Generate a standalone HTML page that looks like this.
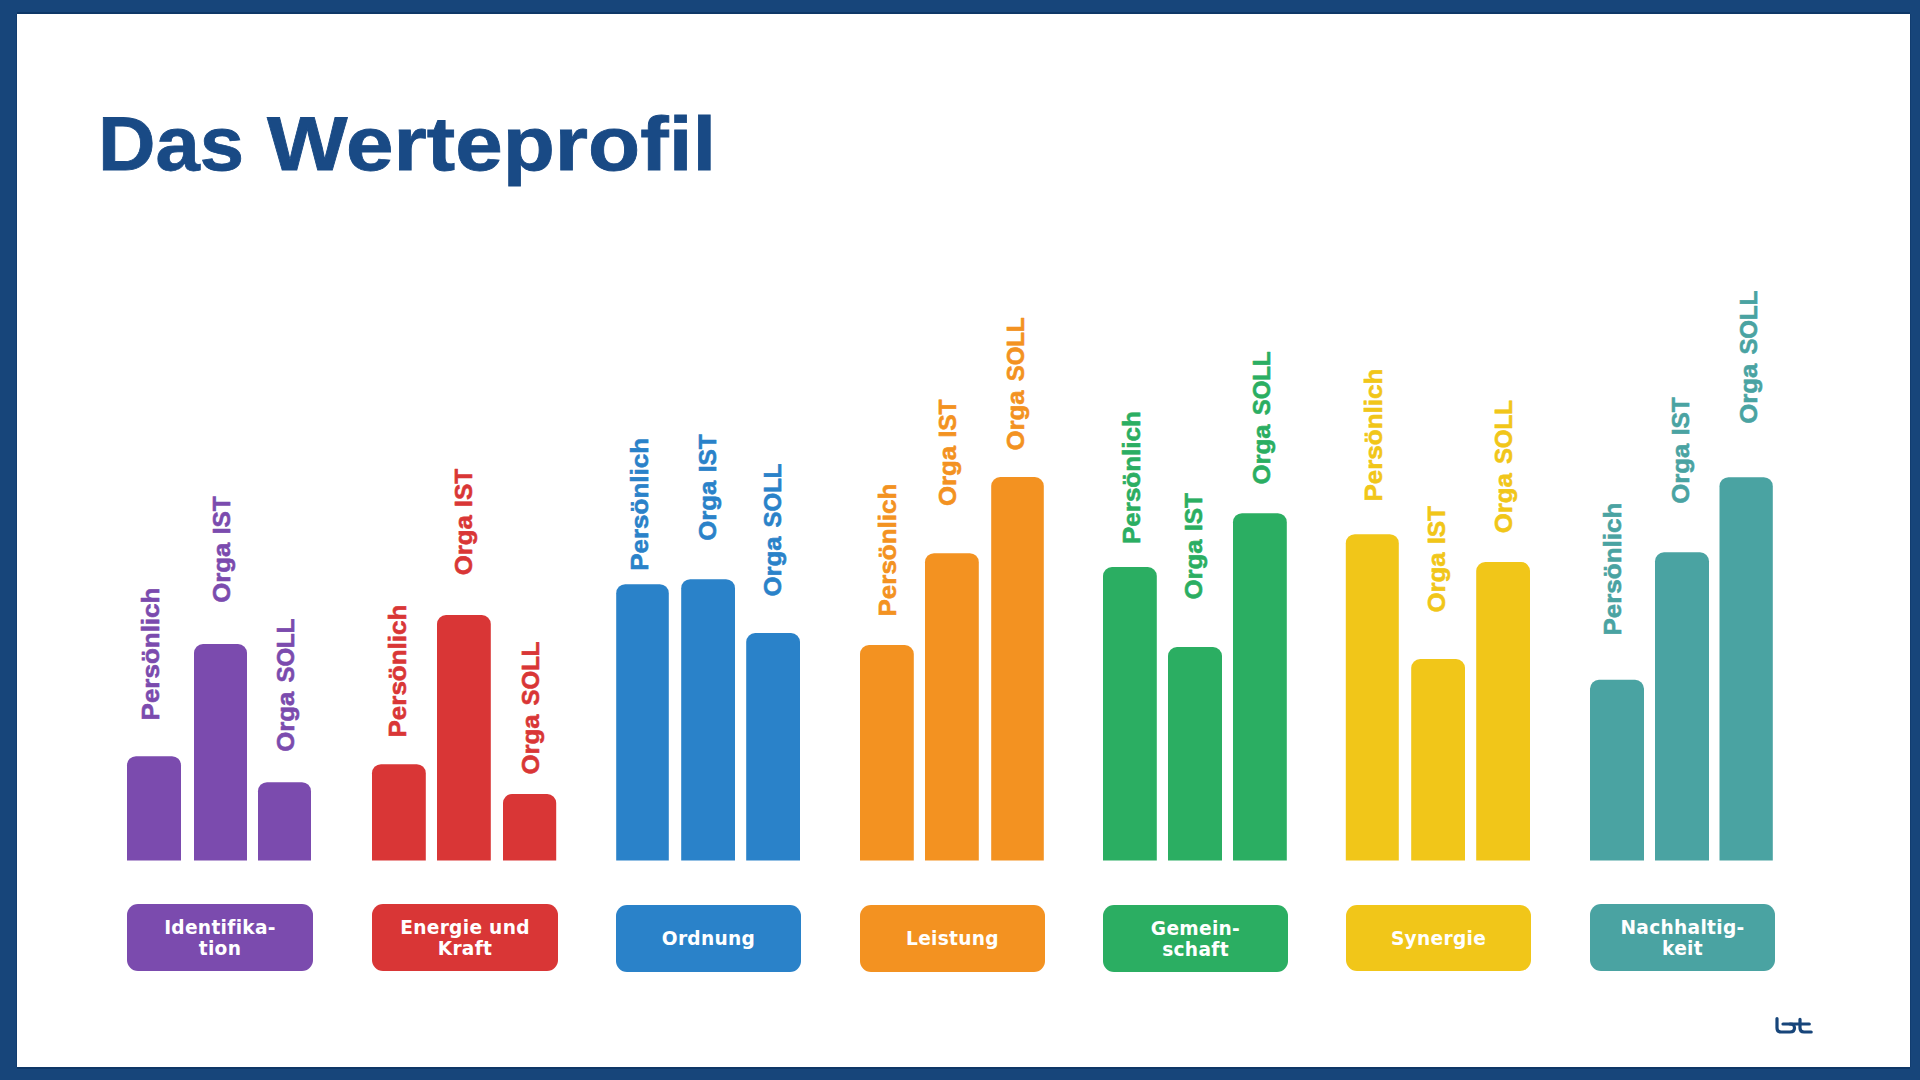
<!DOCTYPE html>
<html lang="de">
<head>
<meta charset="utf-8">
<title>Das Werteprofil</title>
<style>
html,body{margin:0;padding:0;}
body{width:1920px;height:1080px;overflow:hidden;background:#17457A;position:relative;font-family:"Liberation Sans",sans-serif;}
.slide{position:absolute;left:17px;top:14px;width:1893px;height:1053px;background:#fff;box-shadow:0 -2px 0 #0e3767,0 2px 0 #0e3767,-1px 0 0 #123d70,1px 0 0 #123d70;}
h1{position:absolute;margin:0;left:0;top:106px;width:900px;height:80px;font:bold 76px/1 "Liberation Sans",sans-serif;color:#194A85;white-space:nowrap;-webkit-text-stroke:0.8px #194A85;}
h1 span{position:absolute;top:0;transform-origin:0 0;}
h1 .w1{left:97.8px;transform:scaleX(1.048);}
h1 .w2{left:267.3px;transform:scaleX(1.1235);}
svg.chart{position:absolute;left:0;top:0;width:1920px;height:1080px;}
svg.chart text{font-family:"Liberation Sans",sans-serif;font-weight:bold;font-size:24.5px;stroke-width:.6px;stroke-linejoin:round;}
.cat{position:absolute;border-radius:11px;color:#fff;font:bold 18.6px/21px "DejaVu Sans","Liberation Sans",sans-serif;letter-spacing:.3px;text-align:center;display:flex;flex-direction:column;justify-content:center;align-items:center;}
.cat span{display:block;white-space:nowrap;}
svg.logo{position:absolute;left:1770px;top:1012px;width:48px;height:26px;}
</style>
</head>
<body>
<div class="slide"></div>
<h1><span class="w1">Das</span> <span class="w2">Werteprofil</span></h1>
<svg class="chart" viewBox="0 0 1920 1080">

<g fill="#7B4BAE">
<path d="M127.0 860.5V765.2A9 9 0 0 1 136.0 756.2H172.0A9 9 0 0 1 181.0 765.2V860.5Z"/>
<path d="M194.0 860.5V653.0A9 9 0 0 1 203.0 644.0H238.0A9 9 0 0 1 247.0 653.0V860.5Z"/>
<path d="M258.0 860.5V791.2A9 9 0 0 1 267.0 782.2H302.0A9 9 0 0 1 311.0 791.2V860.5Z"/>
</g>
<g fill="#D93636">
<path d="M372.0 860.5V773.2A9 9 0 0 1 381.0 764.2H416.8A9 9 0 0 1 425.8 773.2V860.5Z"/>
<path d="M437.0 860.5V624.0A9 9 0 0 1 446.0 615.0H481.8A9 9 0 0 1 490.8 624.0V860.5Z"/>
<path d="M503.0 860.5V803.0A9 9 0 0 1 512.0 794.0H547.2A9 9 0 0 1 556.2 803.0V860.5Z"/>
</g>
<g fill="#2A82C9">
<path d="M616.2 860.5V593.2A9 9 0 0 1 625.2 584.2H659.8A9 9 0 0 1 668.8 593.2V860.5Z"/>
<path d="M681.2 860.5V588.2A9 9 0 0 1 690.2 579.2H726.0A9 9 0 0 1 735.0 588.2V860.5Z"/>
<path d="M746.2 860.5V642.0A9 9 0 0 1 755.2 633.0H791.0A9 9 0 0 1 800.0 642.0V860.5Z"/>
</g>
<g fill="#F39221">
<path d="M860.0 860.5V654.0A9 9 0 0 1 869.0 645.0H904.8A9 9 0 0 1 913.8 654.0V860.5Z"/>
<path d="M925.0 860.5V562.2A9 9 0 0 1 934.0 553.2H969.8A9 9 0 0 1 978.8 562.2V860.5Z"/>
<path d="M991.2 860.5V486.0A9 9 0 0 1 1000.2 477.0H1034.8A9 9 0 0 1 1043.8 486.0V860.5Z"/>
</g>
<g fill="#2BAE62">
<path d="M1103.0 860.5V576.0A9 9 0 0 1 1112.0 567.0H1147.8A9 9 0 0 1 1156.8 576.0V860.5Z"/>
<path d="M1168.0 860.5V656.0A9 9 0 0 1 1177.0 647.0H1213.0A9 9 0 0 1 1222.0 656.0V860.5Z"/>
<path d="M1233.0 860.5V522.2A9 9 0 0 1 1242.0 513.2H1277.8A9 9 0 0 1 1286.8 522.2V860.5Z"/>
</g>
<g fill="#F1C619">
<path d="M1345.8 860.5V543.2A9 9 0 0 1 1354.8 534.2H1389.8A9 9 0 0 1 1398.8 543.2V860.5Z"/>
<path d="M1411.2 860.5V668.0A9 9 0 0 1 1420.2 659.0H1456.0A9 9 0 0 1 1465.0 668.0V860.5Z"/>
<path d="M1476.2 860.5V571.0A9 9 0 0 1 1485.2 562.0H1521.0A9 9 0 0 1 1530.0 571.0V860.5Z"/>
</g>
<g fill="#4AA3A2">
<path d="M1590.0 860.5V688.8A9 9 0 0 1 1599.0 679.8H1635.0A9 9 0 0 1 1644.0 688.8V860.5Z"/>
<path d="M1655.0 860.5V561.3A9 9 0 0 1 1664.0 552.3H1700.0A9 9 0 0 1 1709.0 561.3V860.5Z"/>
<path d="M1719.5 860.5V486.2A9 9 0 0 1 1728.5 477.2H1763.8A9 9 0 0 1 1772.8 486.2V860.5Z"/>
</g>
<g fill="#7B4BAE" stroke="#7B4BAE">
<text x="159.2" y="720.4" transform="rotate(-90 159.2 720.4)" textLength="132.8" lengthAdjust="spacingAndGlyphs">Persönlich</text>
<text x="230.3" y="602.7" transform="rotate(-90 230.3 602.7)"><tspan textLength="67.2" lengthAdjust="spacingAndGlyphs">Orga </tspan><tspan x="298.7" textLength="38.1" lengthAdjust="spacingAndGlyphs">IST</tspan></text>
<text x="294.4" y="751.7" transform="rotate(-90 294.4 751.7)"><tspan textLength="67.2" lengthAdjust="spacingAndGlyphs">Orga </tspan><tspan x="363.5" textLength="63.9" lengthAdjust="spacingAndGlyphs">SOLL</tspan></text>
</g>
<g fill="#D93636" stroke="#D93636">
<text x="405.5" y="737.5" transform="rotate(-90 405.5 737.5)" textLength="132.8" lengthAdjust="spacingAndGlyphs">Persönlich</text>
<text x="471.9" y="575.3" transform="rotate(-90 471.9 575.3)"><tspan textLength="67.2" lengthAdjust="spacingAndGlyphs">Orga </tspan><tspan x="540.3" textLength="38.1" lengthAdjust="spacingAndGlyphs">IST</tspan></text>
<text x="538.5" y="774.5" transform="rotate(-90 538.5 774.5)"><tspan textLength="67.2" lengthAdjust="spacingAndGlyphs">Orga </tspan><tspan x="607.6" textLength="63.9" lengthAdjust="spacingAndGlyphs">SOLL</tspan></text>
</g>
<g fill="#2A82C9" stroke="#2A82C9">
<text x="648.5" y="570.8" transform="rotate(-90 648.5 570.8)" textLength="132.8" lengthAdjust="spacingAndGlyphs">Persönlich</text>
<text x="716.5" y="540.7" transform="rotate(-90 716.5 540.7)"><tspan textLength="67.2" lengthAdjust="spacingAndGlyphs">Orga </tspan><tspan x="784.9" textLength="38.1" lengthAdjust="spacingAndGlyphs">IST</tspan></text>
<text x="780.5" y="596.5" transform="rotate(-90 780.5 596.5)"><tspan textLength="67.2" lengthAdjust="spacingAndGlyphs">Orga </tspan><tspan x="849.6" textLength="63.9" lengthAdjust="spacingAndGlyphs">SOLL</tspan></text>
</g>
<g fill="#F39221" stroke="#F39221">
<text x="896.0" y="616.5" transform="rotate(-90 896.0 616.5)" textLength="132.8" lengthAdjust="spacingAndGlyphs">Persönlich</text>
<text x="956.2" y="506.0" transform="rotate(-90 956.2 506.0)"><tspan textLength="67.2" lengthAdjust="spacingAndGlyphs">Orga </tspan><tspan x="1024.6" textLength="38.1" lengthAdjust="spacingAndGlyphs">IST</tspan></text>
<text x="1024.5" y="450.4" transform="rotate(-90 1024.5 450.4)"><tspan textLength="67.2" lengthAdjust="spacingAndGlyphs">Orga </tspan><tspan x="1093.6" textLength="63.9" lengthAdjust="spacingAndGlyphs">SOLL</tspan></text>
</g>
<g fill="#2BAE62" stroke="#2BAE62">
<text x="1139.5" y="544.0" transform="rotate(-90 1139.5 544.0)" textLength="132.8" lengthAdjust="spacingAndGlyphs">Persönlich</text>
<text x="1202.0" y="599.5" transform="rotate(-90 1202.0 599.5)"><tspan textLength="67.2" lengthAdjust="spacingAndGlyphs">Orga </tspan><tspan x="1270.4" textLength="38.1" lengthAdjust="spacingAndGlyphs">IST</tspan></text>
<text x="1270.0" y="484.4" transform="rotate(-90 1270.0 484.4)"><tspan textLength="67.2" lengthAdjust="spacingAndGlyphs">Orga </tspan><tspan x="1339.1" textLength="63.9" lengthAdjust="spacingAndGlyphs">SOLL</tspan></text>
</g>
<g fill="#F1C619" stroke="#F1C619">
<text x="1382.3" y="501.5" transform="rotate(-90 1382.3 501.5)" textLength="132.8" lengthAdjust="spacingAndGlyphs">Persönlich</text>
<text x="1445.0" y="612.5" transform="rotate(-90 1445.0 612.5)"><tspan textLength="67.2" lengthAdjust="spacingAndGlyphs">Orga </tspan><tspan x="1513.4" textLength="38.1" lengthAdjust="spacingAndGlyphs">IST</tspan></text>
<text x="1512.5" y="533.2" transform="rotate(-90 1512.5 533.2)"><tspan textLength="67.2" lengthAdjust="spacingAndGlyphs">Orga </tspan><tspan x="1581.6" textLength="63.9" lengthAdjust="spacingAndGlyphs">SOLL</tspan></text>
</g>
<g fill="#4AA3A2" stroke="#4AA3A2">
<text x="1621.3" y="635.5" transform="rotate(-90 1621.3 635.5)" textLength="132.8" lengthAdjust="spacingAndGlyphs">Persönlich</text>
<text x="1689.5" y="503.7" transform="rotate(-90 1689.5 503.7)"><tspan textLength="67.2" lengthAdjust="spacingAndGlyphs">Orga </tspan><tspan x="1757.9" textLength="38.1" lengthAdjust="spacingAndGlyphs">IST</tspan></text>
<text x="1757.5" y="423.7" transform="rotate(-90 1757.5 423.7)"><tspan textLength="67.2" lengthAdjust="spacingAndGlyphs">Orga </tspan><tspan x="1826.6" textLength="63.9" lengthAdjust="spacingAndGlyphs">SOLL</tspan></text>
</g>
</svg>
<div class="cat" style="left:127.0px;top:904.0px;width:186.0px;height:67.0px;background:#7B4BAE"><span>Identifika-</span><span>tion</span></div>
<div class="cat" style="left:372.0px;top:904.0px;width:186.0px;height:67.0px;background:#D93636"><span>Energie und</span><span>Kraft</span></div>
<div class="cat" style="left:616.0px;top:905.0px;width:185.0px;height:67.0px;background:#2A82C9"><span>Ordnung</span></div>
<div class="cat" style="left:860.0px;top:905.0px;width:185.0px;height:67.0px;background:#F39221"><span>Leistung</span></div>
<div class="cat" style="left:1103.0px;top:905.0px;width:185.0px;height:67.0px;background:#2BAE62"><span>Gemein-</span><span>schaft</span></div>
<div class="cat" style="left:1346.0px;top:905.0px;width:185.0px;height:66.0px;background:#F1C619"><span>Synergie</span></div>
<div class="cat" style="left:1590.0px;top:904.0px;width:185.0px;height:67.0px;background:#4AA3A2"><span>Nachhaltig-</span><span>keit</span></div>
<svg class="logo" viewBox="1770 1012 48 26" fill="none" stroke="#17457A" stroke-width="3.2" stroke-linecap="round" stroke-linejoin="round">
<path d="M1777 1018.5V1028Q1777 1032 1781 1032H1790Q1794.5 1032 1794.5 1028Q1794.5 1024 1790 1024H1783"/>
<path d="M1790 1024H1809.3M1800 1019.3V1028Q1800 1032 1804 1032H1811.2"/>
</svg>
</body>
</html>
